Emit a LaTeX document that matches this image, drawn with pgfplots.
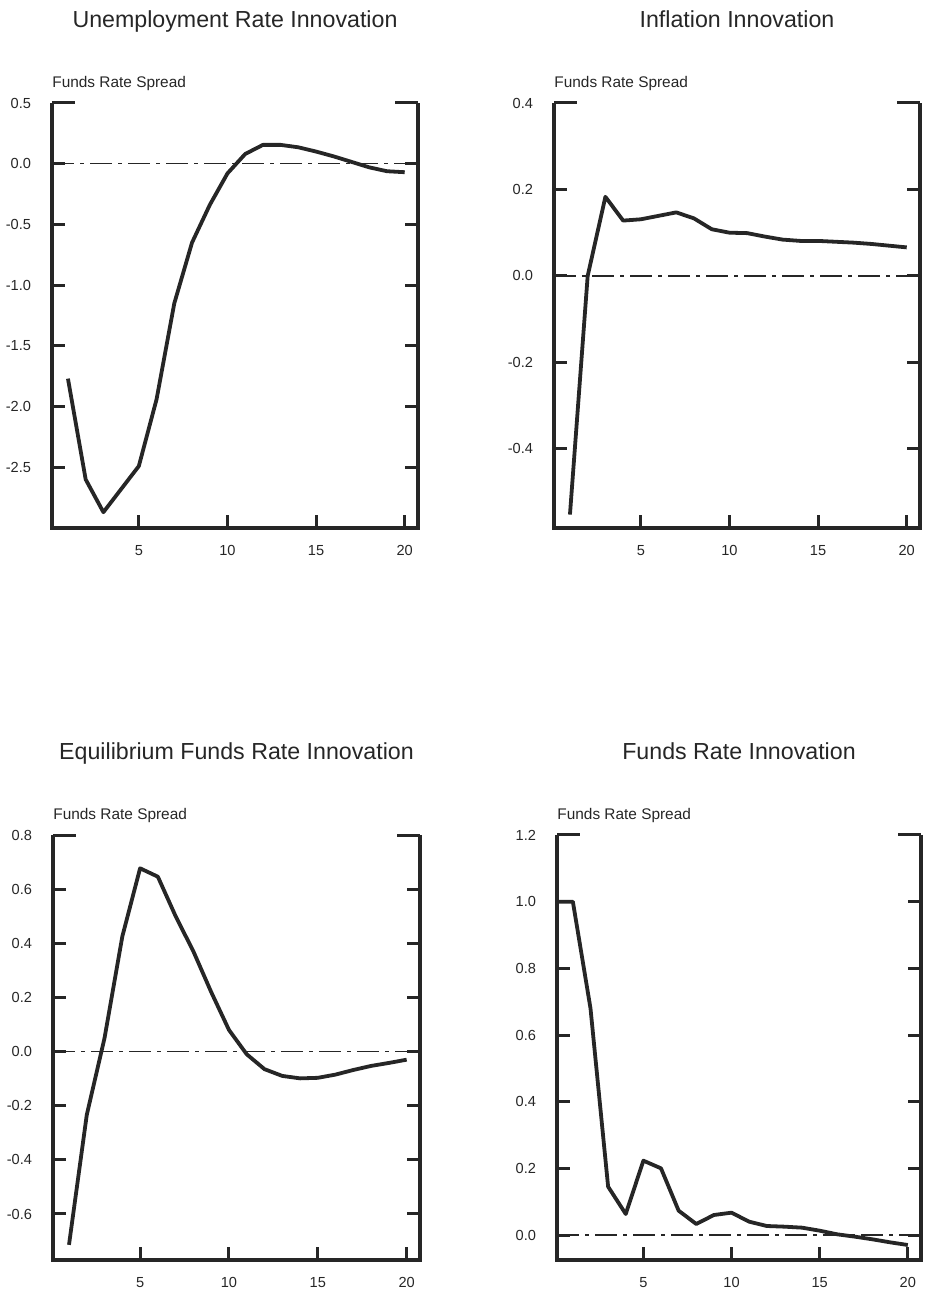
\documentclass[border=0pt]{standalone}
\usepackage{fontspec}
\setmainfont{Liberation Sans}
\usepackage{pgfplots}
\pgfplotsset{compat=1.18}
\definecolor{ink}{HTML}{262626}
\pgfkeys{/pgf/number format/.cd, fixed, fixed zerofill, precision=1, assume math mode=true}
\tikzset{
  frame/.style={ink, line width=1.6pt, line join=miter},
  resp/.style={ink, line width=1.9pt, line join=round},
  zero/.style={ink, line width=0.7pt, dash pattern=on 11pt off 3pt on 2pt off 3pt},
  ttl/.style={anchor=base, yshift=37.9pt, font=\fontsize{11.6}{13}\selectfont, text=ink},
  lab/.style={anchor=base west, inner sep=0pt, yshift=7.6pt, font=\fontsize{7.7}{9}\selectfont, text=ink},
}
\pgfplotsset{
  irf/.style={
    scale only axis,
    axis line style={draw=none},
    xmin=0.1, xmax=20.75,
    xtick={5,10,15,20},
    xticklabels={5,10,15,20},
    xtick pos=left,
    ytick pos=both,
    yticklabel pos=left,
    tick align=inside,
    major tick length=6.5pt,
    tick style={line width=1.5pt, ink},
    ticklabel style={font=\fontsize{7.3}{8}\selectfont, text=ink},
    yticklabel style={xshift=-7pt},
    xticklabel style={yshift=-5pt},
    extra y tick style={major tick length=11.5pt},
    clip=false,
    height=212.5pt,
  },
}
\begin{document}
\begin{tikzpicture}
\path[use as bounding box] (0,0) rectangle (463pt,645pt);

% Panel 1
\begin{axis}[irf, at={(26pt,381pt)}, anchor=south west, width=183pt,
  ymin=-3.0, ymax=0.5, ytick={-2.5,-2,-1.5,-1,-0.5,0}, extra y ticks={0.5}]
\addplot[zero] coordinates {(0.1,0) (20.75,0)};
\addplot[resp] coordinates {
(1,-1.77) (2,-2.60) (3,-2.87) (4,-2.68) (5,-2.49) (6,-1.94) (7,-1.15) (8,-0.65)
(9,-0.34) (10,-0.08) (11,0.08) (12,0.155) (13,0.155) (14,0.135) (15,0.10)
(16,0.06) (17,0.015) (18,-0.03) (19,-0.062) (20,-0.07)};
\draw[frame] (rel axis cs:0,1) -- (rel axis cs:0,0) -- (rel axis cs:1,0) -- (rel axis cs:1,1);
\node[ttl] at (rel axis cs:0.5,1) {Unemployment Rate Innovation};
\node[lab] at (rel axis cs:0,1) {Funds Rate Spread};
\end{axis}

% Panel 2
\begin{axis}[irf, at={(277pt,381pt)}, anchor=south west, width=183pt,
  ymin=-0.583, ymax=0.4, ytick={-0.4,-0.2,0,0.2}, extra y ticks={0.4}]
\addplot[zero] coordinates {(0.1,0) (20.75,0)};
\addplot[resp] coordinates {
(1,-0.552) (2,0.0) (3,0.183) (4,0.128) (5,0.131) (6,0.139) (7,0.147) (8,0.133)
(9,0.108) (10,0.100) (11,0.099) (12,0.091) (13,0.084) (14,0.081) (15,0.081)
(16,0.079) (17,0.077) (18,0.074) (19,0.070) (20,0.066)};
\draw[frame] (rel axis cs:0,1) -- (rel axis cs:0,0) -- (rel axis cs:1,0) -- (rel axis cs:1,1);
\node[ttl] at (rel axis cs:0.5,1) {Inflation Innovation};
\node[lab] at (rel axis cs:0,1) {Funds Rate Spread};
\end{axis}

% Panel 3
\begin{axis}[irf, at={(26.5pt,15pt)}, anchor=south west, width=183.5pt,
  ymin=-0.77, ymax=0.8, ytick={-0.6,-0.4,-0.2,0,0.2,0.4,0.6}, extra y ticks={0.8}]
\addplot[zero] coordinates {(0.1,0) (20.75,0)};
\addplot[resp] coordinates {
(1,-0.714) (2,-0.234) (3,0.05) (4,0.425) (5,0.677) (6,0.646) (7,0.50) (8,0.37)
(9,0.22) (10,0.08) (11,-0.01) (12,-0.065) (13,-0.09) (14,-0.099) (15,-0.097)
(16,-0.085) (17,-0.068) (18,-0.053) (19,-0.042) (20,-0.03)};
\draw[frame] (rel axis cs:0,1) -- (rel axis cs:0,0) -- (rel axis cs:1,0) -- (rel axis cs:1,1);
\node[ttl] at (rel axis cs:0.5,1) {Equilibrium Funds Rate Innovation};
\node[lab] at (rel axis cs:0,1) {Funds Rate Spread};
\end{axis}

% Panel 4
\begin{axis}[irf, at={(278.5pt,15pt)}, anchor=south west, width=182pt,
  ymin=-0.075, ymax=1.2, ytick={0,0.2,0.4,0.6,0.8,1.0}, extra y ticks={1.2}]
\addplot[zero] coordinates {(0.1,0) (20.75,0)};
\addplot[resp] coordinates {
(0.1,1.0) (1,1.0) (2,0.68) (3,0.145) (4,0.063) (5,0.223) (6,0.20) (7,0.073) (8,0.033)
(9,0.06) (10,0.067) (11,0.04) (12,0.027) (13,0.025) (14,0.022) (15,0.013)
(16,0.002) (17,-0.005) (18,-0.013) (19,-0.022) (20,-0.03)};
\draw[frame] (rel axis cs:0,1) -- (rel axis cs:0,0) -- (rel axis cs:1,0) -- (rel axis cs:1,1);
\node[ttl] at (rel axis cs:0.5,1) {Funds Rate Innovation};
\node[lab] at (rel axis cs:0,1) {Funds Rate Spread};
\end{axis}
\end{tikzpicture}
\end{document}
